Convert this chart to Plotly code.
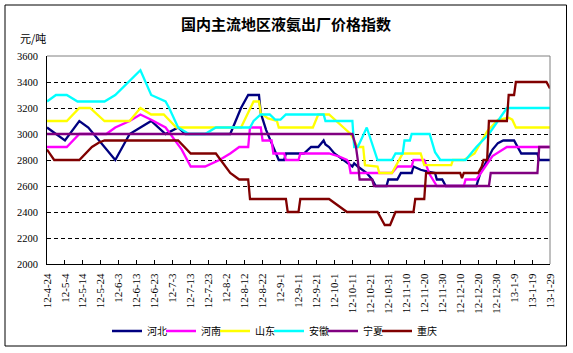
import pandas as pd
import plotly.graph_objects as go

# ---------------- data ----------------
title_text = "国内主流地区液氨出厂价格指数"
unit_text = "元/吨"

tick_labels = ["12-4-24", "12-5-4", "12-5-14", "12-5-24", "12-6-3", "12-6-13", "12-6-23",
               "12-7-3", "12-7-13", "12-7-23", "12-8-2", "12-8-12", "12-8-22", "12-9-1",
               "12-9-11", "12-9-21", "12-10-1", "12-10-11", "12-10-21", "12-10-31",
               "12-11-10", "12-11-20", "12-11-30", "12-12-10", "12-12-20", "12-12-30",
               "13-1-9", "13-1-19", "13-1-29"]
tick_dates = ["2012-04-24", "2012-05-04", "2012-05-14", "2012-05-24", "2012-06-03", "2012-06-13",
              "2012-06-23", "2012-07-03", "2012-07-13", "2012-07-23", "2012-08-02", "2012-08-12",
              "2012-08-22", "2012-09-01", "2012-09-11", "2012-09-21", "2012-10-01", "2012-10-11",
              "2012-10-21", "2012-10-31", "2012-11-10", "2012-11-20", "2012-11-30", "2012-12-10",
              "2012-12-20", "2012-12-30", "2013-01-09", "2013-01-19", "2013-01-29"]
y_ticks = [2000, 2200, 2400, 2600, 2800, 3000, 3200, 3400, 3600]

hebei_dates = ["2012-04-24", "2012-05-04", "2012-05-12", "2012-05-17", "2012-06-01", "2012-06-09",
               "2012-06-15", "2012-06-21", "2012-06-29", "2012-07-06", "2012-07-10", "2012-08-04",
               "2012-08-10", "2012-08-14", "2012-08-20", "2012-08-21", "2012-08-24", "2012-08-27",
               "2012-08-31", "2012-09-03", "2012-09-04", "2012-09-14", "2012-09-17", "2012-09-18",
               "2012-09-22", "2012-09-25", "2012-09-26", "2012-09-28", "2012-10-01", "2012-10-06",
               "2012-10-10", "2012-10-11", "2012-10-12", "2012-10-14", "2012-10-19", "2012-10-22",
               "2012-10-24", "2012-10-30", "2012-10-31", "2012-11-05", "2012-11-07", "2012-11-13",
               "2012-11-14", "2012-11-18", "2012-11-22", "2012-11-26", "2012-11-27", "2012-11-30",
               "2012-12-02", "2012-12-19", "2012-12-21", "2012-12-24", "2012-12-28", "2012-12-31",
               "2013-01-03", "2013-01-09", "2013-01-13", "2013-01-22", "2013-01-23", "2013-01-29"]
hebei_vals = [3050, 2950, 3100, 3050, 2800, 3000,
              3050, 3100, 3000, 3050, 3000, 3000,
              3200, 3300, 3300, 3160, 3030, 2930,
              2800, 2800, 2850, 2850, 2890, 2900,
              2900, 2950, 2920, 2900, 2850, 2800,
              2760, 2750, 2775, 2750, 2700, 2650,
              2600, 2600, 2650, 2650, 2700, 2700,
              2750, 2725, 2710, 2700, 2650, 2650,
              2600, 2600, 2690, 2775, 2880, 2930,
              2950, 2950, 2850, 2850, 2800, 2800]

henan_dates = ["2012-04-24", "2012-05-05", "2012-05-12", "2012-05-27", "2012-06-01", "2012-06-09",
               "2012-06-15", "2012-06-21", "2012-06-29", "2012-07-08", "2012-07-13", "2012-07-21",
               "2012-07-29", "2012-08-04", "2012-08-09", "2012-08-14", "2012-08-15", "2012-08-21",
               "2012-08-22", "2012-08-27", "2012-08-28", "2012-09-03", "2012-09-04", "2012-09-11",
               "2012-09-12", "2012-09-28", "2012-10-04", "2012-10-08", "2012-10-09", "2012-10-10",
               "2012-11-02", "2012-11-05", "2012-11-13", "2012-11-14", "2012-11-20", "2012-11-23",
               "2012-11-27", "2012-12-12", "2012-12-13", "2012-12-19", "2012-12-24", "2012-12-28",
               "2013-01-05", "2013-01-29"]
henan_vals = [2900, 2900, 3000, 3000, 3050, 3100,
              3150, 3110, 3050, 2880, 2750, 2750,
              2800, 2850, 2900, 2900, 3050, 3050,
              2950, 2950, 2850, 2850, 2800, 2800,
              2850, 2850, 2825, 2800, 2780, 2700,
              2700, 2750, 2750, 2800, 2800, 2690,
              2600, 2600, 2650, 2650, 2750, 2830,
              2900, 2900]

shandong_dates = ["2012-04-24", "2012-05-05", "2012-05-12", "2012-05-18", "2012-05-26", "2012-06-09",
                  "2012-06-15", "2012-06-21", "2012-06-28", "2012-07-05", "2012-08-10", "2012-08-17",
                  "2012-08-20", "2012-08-21", "2012-08-25", "2012-08-30", "2012-08-31", "2012-09-19",
                  "2012-09-22", "2012-09-28", "2012-10-10", "2012-10-12", "2012-10-14", "2012-10-17",
                  "2012-10-18", "2012-10-25", "2012-10-26", "2012-11-02", "2012-11-04", "2012-11-08",
                  "2012-11-18", "2012-11-20", "2012-12-05", "2012-12-06", "2012-12-12", "2012-12-18",
                  "2012-12-25", "2012-12-31", "2013-01-06", "2013-01-08", "2013-01-10", "2013-01-29"]
shandong_vals = [3100, 3100, 3200, 3200, 3100, 3100,
                 3200, 3150, 3150, 3050, 3050, 3250,
                 3250, 3160, 3120, 3100, 3050, 3050,
                 3150, 3150, 3000, 2950, 2900, 2900,
                 2760, 2750, 2700, 2700, 2750, 2850,
                 2850, 2760, 2760, 2800, 2800, 2850,
                 3020, 3110, 3125, 3110, 3050, 3050]

anhui_dates = ["2012-04-24", "2012-04-29", "2012-05-05", "2012-05-11", "2012-05-26", "2012-06-01",
               "2012-06-15", "2012-06-21", "2012-06-29", "2012-07-01", "2012-07-06", "2012-07-12",
               "2012-07-21", "2012-07-27", "2012-08-15", "2012-08-17", "2012-08-21", "2012-08-26",
               "2012-08-29", "2012-09-01", "2012-09-04", "2012-09-25", "2012-09-26", "2012-10-11",
               "2012-10-12", "2012-10-14", "2012-10-19", "2012-10-25", "2012-11-02", "2012-11-04",
               "2012-11-08", "2012-11-09", "2012-11-12", "2012-11-13", "2012-11-23", "2012-11-26",
               "2012-11-29", "2012-12-13", "2012-12-19", "2012-12-26", "2013-01-05", "2013-01-29"]
anhui_vals = [3250, 3300, 3300, 3250, 3250, 3300,
              3490, 3300, 3250, 3200, 3050, 3000,
              3000, 3050, 3050, 3100, 3150, 3150,
              3110, 3110, 3150, 3150, 3100, 3100,
              2900, 2900, 3050, 2800, 2800, 2850,
              2850, 2950, 2950, 3000, 3000, 2860,
              2800, 2800, 2900, 3000, 3200, 3200]

ningxia_dates = ["2012-04-24", "2012-10-11", "2012-10-13", "2012-10-14", "2012-10-15", "2012-10-22",
                 "2012-10-23", "2012-12-26", "2012-12-27", "2013-01-22", "2013-01-23", "2013-01-29"]
ningxia_vals = [3000, 3000, 2900, 2800, 2650, 2650,
                2600, 2600, 2700, 2700, 2900, 2900]

chongqing_dates = ["2012-04-24", "2012-04-28", "2012-05-12", "2012-05-19", "2012-05-23", "2012-05-26",
                   "2012-07-06", "2012-07-13", "2012-07-27", "2012-08-01", "2012-08-04", "2012-08-09",
                   "2012-08-14", "2012-08-15", "2012-09-04", "2012-09-05", "2012-09-11", "2012-09-12",
                   "2012-09-28", "2012-10-08", "2012-10-25", "2012-10-29", "2012-11-01", "2012-11-04",
                   "2012-11-14", "2012-11-15", "2012-11-20", "2012-11-21", "2012-12-10", "2012-12-11",
                   "2012-12-12", "2012-12-20", "2012-12-22", "2012-12-23", "2012-12-25", "2012-12-26",
                   "2013-01-05", "2013-01-06", "2013-01-09", "2013-01-10", "2013-01-27", "2013-01-29"]
chongqing_vals = [2880, 2800, 2800, 2900, 2935, 2950,
                  2950, 2850, 2850, 2750, 2700, 2650,
                  2650, 2500, 2500, 2400, 2400, 2500,
                  2500, 2400, 2400, 2300, 2300, 2400,
                  2400, 2500, 2500, 2700, 2700, 2660,
                  2700, 2700, 2750, 2800, 2800, 3100,
                  3100, 3300, 3300, 3400, 3400, 3350]

series = [
    ("河北", hebei_dates, hebei_vals, "#000080"),
    ("河南", henan_dates, henan_vals, "#FF00FF"),
    ("山东", shandong_dates, shandong_vals, "#FFFF00"),
    ("安徽", anhui_dates, anhui_vals, "#00FFFF"),
    ("宁夏", ningxia_dates, ningxia_vals, "#800080"),
    ("重庆", chongqing_dates, chongqing_vals, "#800000"),
]

# ---------------- figure ----------------
W, H = 573, 353
ML, MR, MT, MB = 47, 23, 56, 89
PW, PH = W - ML - MR, H - MT - MB

cjk = "Noto Sans CJK SC"
num_font = "Liberation Serif"

fig = go.Figure()
for i, (name, xs, ys, col) in enumerate(series):
    extra = {"legendwidth": 30} if i == len(series) - 1 else {}
    fig.add_trace(go.Scatter(x=pd.to_datetime(xs), y=ys, mode="lines", name=name,
                             line=dict(color=col, width=2.3), **extra))

fig.update_layout(
    width=W, height=H,
    margin=dict(l=ML, r=MR, t=MT, b=MB, pad=0, autoexpand=False),
    paper_bgcolor="white", plot_bgcolor="white",
    showlegend=True,
    legend=dict(orientation="h", xref="container", yref="container",
                x=107 / W, xanchor="left", y=(H - 331) / H, yanchor="middle",
                font=dict(family=cjk, size=10, color="black"),
                entrywidth=9, entrywidthmode="pixels", tracegroupgap=0,
                bgcolor="rgba(0,0,0,0)"),
    title=dict(text="<b>" + title_text + "</b>", x=286 / W, xanchor="center",
               xref="container", y=(H - 25) / H, yref="container", yanchor="middle",
               font=dict(family=cjk, size=15, color="black")),
)

fig.update_xaxes(
    type="date", automargin=False,
    range=[pd.Timestamp(tick_dates[0]), pd.Timestamp(tick_dates[-1])],
    tickmode="array", tickvals=pd.to_datetime(tick_dates), ticktext=tick_labels,
    tickangle=-90, ticks="inside", ticklen=4, tickwidth=1, tickcolor="black",
    ticklabelstandoff=4,
    tickfont=dict(family=num_font, size=11, color="black"),
    showline=True, linecolor="black", linewidth=1,
    showgrid=False, zeroline=False, fixedrange=True,
)
fig.update_yaxes(
    automargin=False,
    range=[2000, 3600], tickmode="array", tickvals=y_ticks,
    ticktext=[str(v) for v in y_ticks],
    tickfont=dict(family=num_font, size=10.5, color="black"),
    ticks="", ticklabelstandoff=6,
    showline=True, linecolor="black", linewidth=1,
    showgrid=True, gridcolor="black", gridwidth=1, griddash="4px,3px",
    zeroline=False, fixedrange=True,
)

# plot-area border (top & right, grey) drawn over the dashed grid at 3600
fig.add_shape(type="line", xref="paper", yref="paper", x0=0, x1=1, y0=1, y1=1,
              line=dict(color="#808080", width=1), layer="above")
fig.add_shape(type="line", xref="paper", yref="paper", x0=1, x1=1, y0=0, y1=1,
              line=dict(color="#808080", width=1), layer="above")

# outer chart frame
fx0 = (5 - ML) / PW
fx1 = (566.5 - ML) / PW
fy1 = (H - MB - 5) / PH
fy0 = (H - MB - 346) / PH
fig.add_shape(type="rect", xref="paper", yref="paper", x0=fx0, x1=fx1, y0=fy0, y1=fy1,
              line=dict(color="black", width=1), fillcolor="rgba(0,0,0,0)", layer="below")

fig.add_annotation(text=unit_text, xref="paper", yref="paper",
                   x=(33 - ML) / PW, y=(H - MB - 38) / PH, showarrow=False,
                   xanchor="center", yanchor="middle",
                   font=dict(family=cjk, size=11, color="black"))

fig.write_html("out.html")
